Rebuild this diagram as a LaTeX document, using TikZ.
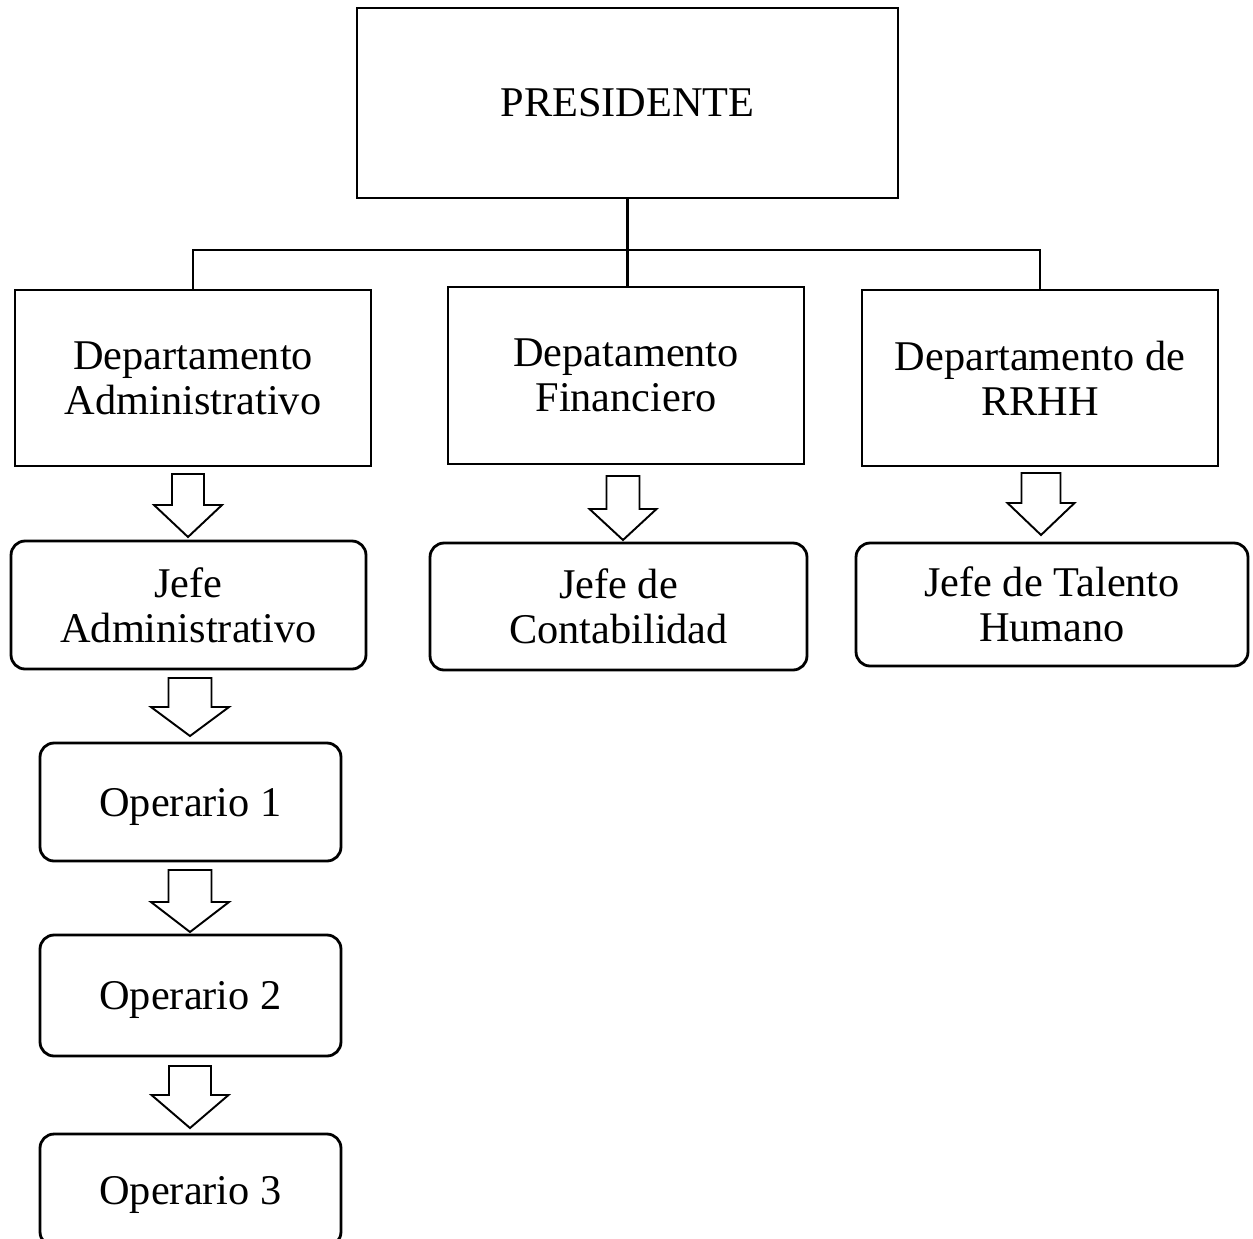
\documentclass[tikz,border=0pt]{standalone}
\usepackage{fontspec}
\setmainfont{Liberation Serif}

\begin{document}
\begin{tikzpicture}[x=0.02cm, y=-0.02cm, every node/.style={font=\fontsize{24.1}{25.6}\selectfont}, caja/.style={draw, line width=1.6pt, align=center, inner sep=0pt}, cargo/.style={caja, rounded corners=0.28cm}, operario/.style={cargo, minimum width=6.02cm, text depth=0pt}, flecha/.style={draw, line width=1.1pt, line join=miter}, linea/.style={line width=1.3pt}, rama/.style={line width=0.6pt}]
\useasboundingbox (0,0) rectangle (1253,1238);
% cajas
\node[caja, minimum width=10.82cm, minimum height=3.8cm] (pres) at (627.5,103) {PRESIDENTE};
\node[caja, minimum width=7.12cm, minimum height=3.52cm] (dadm) at (193,378) {Departamento\\Administrativo};
\node[caja, minimum width=7.12cm, minimum height=3.54cm] (dfin) at (626,375.5) {Depatamento\\Financiero};
\node[caja, minimum width=7.12cm, minimum height=3.52cm] (drrhh) at (1040,378) {Departamento de\\RRHH};
\node[cargo, minimum width=7.1cm, minimum height=2.56cm] (jadm) at (188.5,605) {Jefe\\Administrativo};
\node[cargo, minimum width=7.54cm, minimum height=2.54cm] (jcont) at (618.5,606.5) {Jefe de\\Contabilidad};
\node[cargo, minimum width=7.84cm, minimum height=2.46cm] (jtal) at (1052,604.5) {Jefe de Talento\\Humano};
\node[operario, minimum height=2.36cm] (op1) at (190.5,802) {Operario 1};
\node[operario, minimum height=2.42cm] (op2) at (190.5,995.5) {Operario 2};
\node[operario, minimum height=2.24cm] (op3) at (190.5,1190) {Operario 3};
% lineas
\coordinate (bus) at (627,250);
\draw[linea] (pres.south) -- (pres.south |- dfin.north);
\draw[rama] (dadm.north) |- (bus) -| (drrhh.north);
% flechas huecas: punta x/y, largo, medio ancho cabeza, medio ancho tallo, largo cabeza
\foreach \x/\y/\l/\h/\s/\c in {188/537/63/34/16/32, 190/736/58/39/21.5/29, 190/932/62/39/21.5/30, 190/1128/62/38.5/21/33, 623/540/64/33.5/16.5/31, 1041/535/62/33.5/19.5/32}
  \draw[flecha] (\x,\y) -- ++(-\h,-\c) -- ++(\h-\s,0) -- ++(0,\c-\l) -- ++(2*\s,0) -- ++(0,\l-\c) -- ++(\h-\s,0) -- cycle;
\end{tikzpicture}
\end{document}
